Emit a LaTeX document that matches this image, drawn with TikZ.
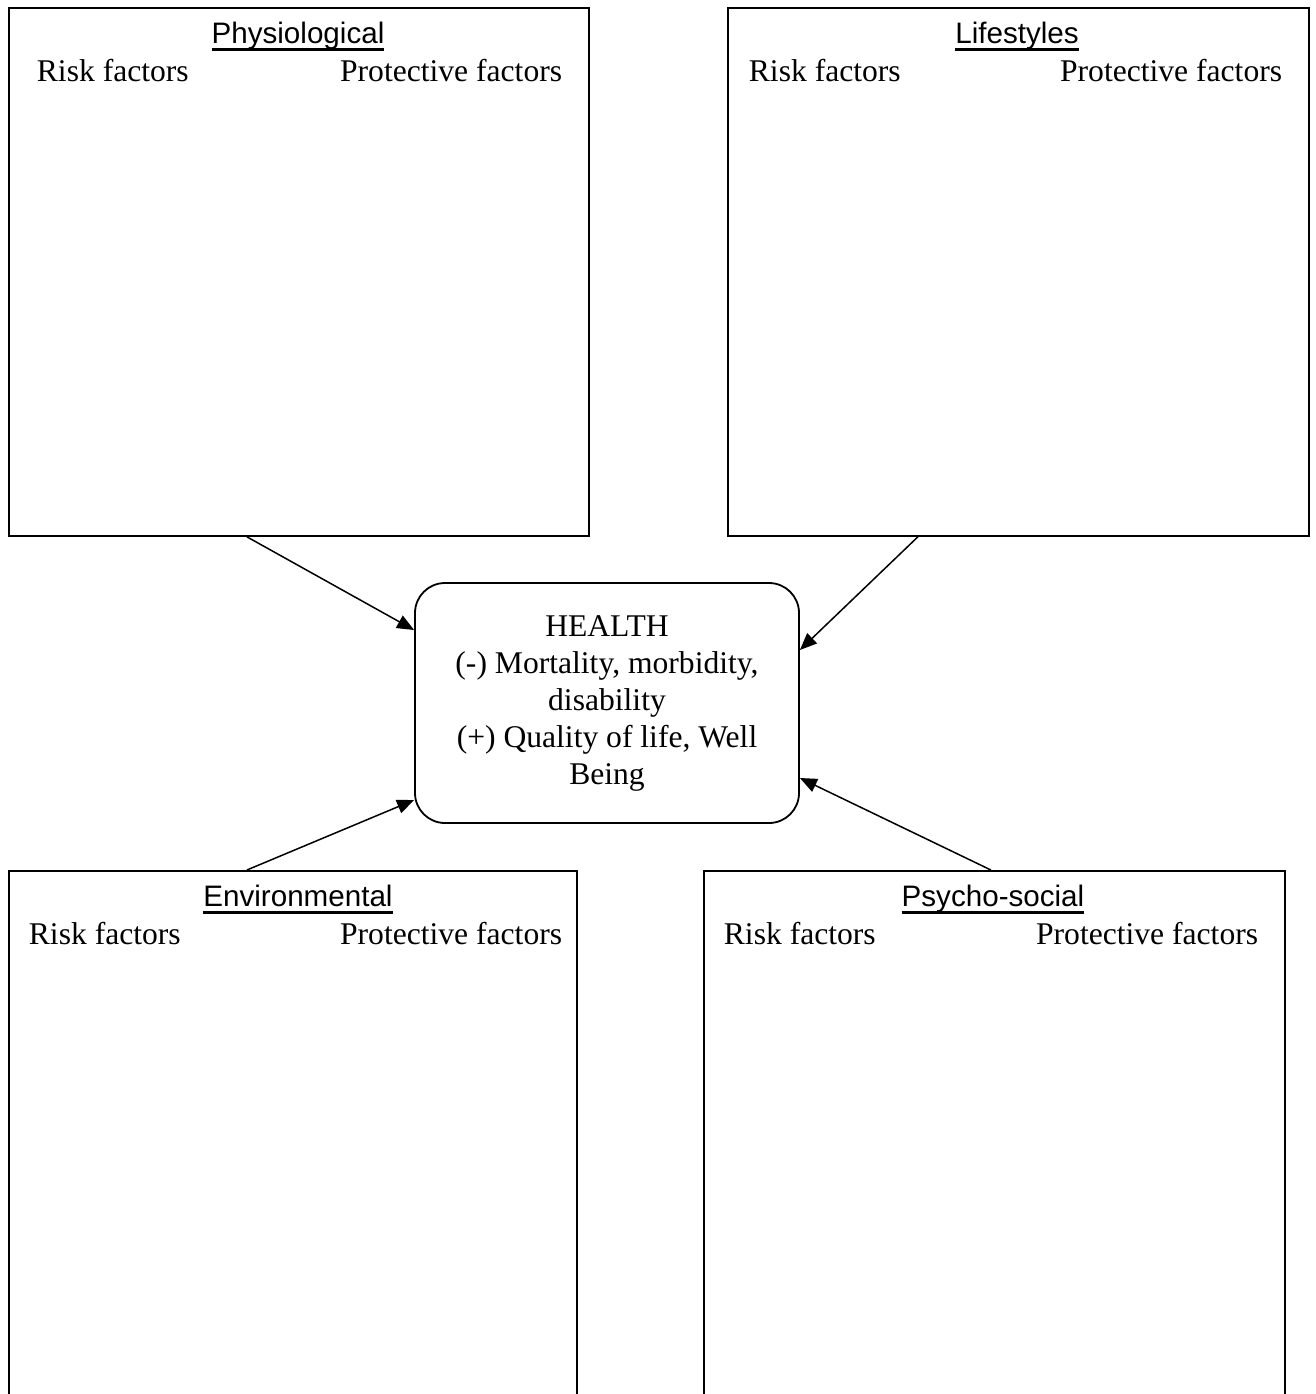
\documentclass[tikz,border=0pt]{standalone}
\usepackage{fontspec}
\setmainfont{Liberation Serif}
\setsansfont{Liberation Sans}
\usetikzlibrary{arrows.meta,calc,positioning}

% thick underline for the group titles
\newcommand{\ulhead}[1]{\setbox0\hbox{#1}\leavevmode\rlap{\rule[-3.9pt]{\wd0}{1.2pt}}\box0}

\begin{document}
\begin{tikzpicture}[x=0.5pt, y=-0.5pt, line width=0.9pt,
	box/.style = {draw, rectangle, anchor=north west, inner sep=0pt},
	head/.style = {anchor=base, font=\sffamily\fontsize{14.8}{17}\selectfont},
	risk/.style = {anchor=base west, inner sep=0pt, font=\fontsize{15.8}{18.5}\selectfont},
	prot/.style = {anchor=base east, inner sep=0pt, font=\fontsize{15.8}{18.5}\selectfont},
	hlth/.style = {draw, rounded corners=15pt, minimum width=192pt, minimum height=120pt, align=center, font=\fontsize{15.8}{18.5}\selectfont},
	arr/.style = {-{Triangle[length=8.5pt, width=7pt]}, line width=0.75pt}]
	
	\useasboundingbox (0,0) rectangle (1316,1394);
	
	% the four groups of factors
	\node[box, minimum width=290pt, minimum height=264pt] (phys) at (8,7) {};
	\node[box, minimum width=290.5pt, minimum height=264pt] (life) at (727,7) {};
	\node[box, minimum width=284pt, minimum height=300pt] (env) at (8,870) {};
	\node[box, minimum width=290.5pt, minimum height=300pt] (psy) at (703,870) {};
	
	\node[head] (physh) at (298,43) {\ulhead{Physiological}};
	\node[risk] (physr) at (36,81) {Risk factors};
	\node[prot] (physp) at (563,81) {Protective factors};
	
	\node[head] (lifeh) at (1017,43) {\ulhead{Lifestyles}};
	\node[risk] (lifer) at (748,81) {Risk factors};
	\node[prot] (lifep) at (1283,81) {Protective factors};
	
	\node[head] (envh) at (298,906) {\ulhead{Environmental}};
	\node[risk] (envr) at (28,944) {Risk factors};
	\node[prot] (envp) at (563,944) {Protective factors};
	
	\node[head] (psyh) at (993,906) {\ulhead{Psycho-social}};
	\node[risk] (psyr) at (723,944) {Risk factors};
	\node[prot] (psyp) at (1259,944) {Protective factors};
	
	% health in the middle
	\node[hlth] (health) at (607,703) {HEALTH\\(-) Mortality, morbidity,\\disability\\(+) Quality of life, Well\\Being};
	
	\draw[arr] ($(phys.south)+(-52,0)$) -- ($(health.west)+(0,-73)$);
	\draw[arr] ($(life.south)+(-100.5,0)$) -- ($(health.east)+(0,-53)$);
	\draw[arr] ($(env.north)+(-46,0)$) -- ($(health.west)+(0,97)$);
	\draw[arr] ($(psy.north)+(-3.5,0)$) -- ($(health.east)+(0,75)$);
	
\end{tikzpicture}
\end{document}
